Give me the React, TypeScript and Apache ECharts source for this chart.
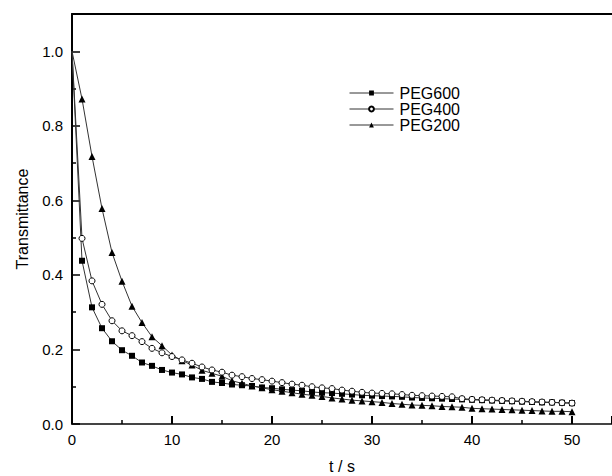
import React, { useEffect, useRef } from "react";
import * as echarts from "echarts";

const times = [
  0, 1, 2, 3, 4, 5, 6, 7, 8, 9, 10, 11, 12, 13, 14, 15, 16, 17, 18, 19, 20,
  21, 22, 23, 24, 25, 26, 27, 28, 29, 30, 31, 32, 33, 34, 35, 36, 37, 38, 39,
  40, 41, 42, 43, 44, 45, 46, 47, 48, 49, 50,
];

const peg600 = [
  1.0, 0.438, 0.313, 0.257, 0.222, 0.198, 0.183, 0.165, 0.156, 0.145, 0.138,
  0.133, 0.125, 0.121, 0.113, 0.11, 0.106, 0.104, 0.102, 0.098, 0.096,
  0.093, 0.091, 0.089, 0.086, 0.084, 0.083, 0.081, 0.079, 0.077, 0.076,
  0.075, 0.074, 0.073, 0.071, 0.07, 0.069, 0.068, 0.067, 0.066, 0.065,
  0.064, 0.063, 0.062, 0.061, 0.06, 0.059, 0.058, 0.058, 0.057, 0.056,
];

const peg400 = [
  1.0, 0.498, 0.384, 0.321, 0.277, 0.25, 0.237, 0.221, 0.203, 0.191, 0.181,
  0.172, 0.163, 0.153, 0.145, 0.139, 0.131, 0.127, 0.122, 0.119, 0.115,
  0.111, 0.107, 0.104, 0.1, 0.097, 0.095, 0.091, 0.088, 0.085, 0.083,
  0.082, 0.081, 0.079, 0.077, 0.076, 0.075, 0.074, 0.073, 0.068, 0.066,
  0.065, 0.064, 0.063, 0.062, 0.061, 0.06, 0.059, 0.058, 0.057, 0.056,
];

const peg200 = [
  1.0, 0.872, 0.718, 0.578, 0.46, 0.383, 0.316, 0.272, 0.234, 0.21, 0.185,
  0.17, 0.158, 0.144, 0.136, 0.128, 0.116, 0.109, 0.102, 0.097, 0.092,
  0.088, 0.084, 0.08, 0.077, 0.074, 0.07, 0.067, 0.064, 0.062, 0.06,
  0.058, 0.055, 0.053, 0.051, 0.05, 0.049, 0.047, 0.046, 0.045, 0.042,
  0.041, 0.04, 0.039, 0.038, 0.037, 0.036, 0.035, 0.034, 0.034, 0.033,
];

const xTicks = [0, 10, 20, 30, 40, 50];
const yTickLabels = ["0.0", "0.2", "0.4", "0.6", "0.8", "1.0"];

const FONT = "'Liberation Sans', Arial, sans-serif";

const pair = (vals: number[]) =>
  vals.map((v, i) =>
    i === 0 ? { value: [times[i], v], symbol: "none" } : { value: [times[i], v] }
  );

export default function App() {
  const ref = useRef<HTMLDivElement>(null);
  useEffect(() => {
    if (!ref.current) return;
    const chart = echarts.init(ref.current, null, { renderer: "svg" });
    const lineStyle = { color: "#333", width: 1 };
    chart.setOption({
      animation: false,
      backgroundColor: "#fff",
      grid: {
        left: 72,
        top: 14,
        right: 0,
        bottom: 52,
        containLabel: false,
        outerBoundsMode: "none",
      },
      legend: {
        orient: "vertical",
        left: 349,
        top: 85,
        padding: 0,
        itemWidth: 44,
        itemHeight: 6,
        itemGap: 0,
        data: ["PEG600", "PEG400", "PEG200"],
        lineStyle: { width: 1, color: "#333" },
        textStyle: { fontFamily: FONT, fontSize: 16, lineHeight: 16, color: "#000", padding: [0, 0, 0, 1] },
      },
      xAxis: [
        {
          type: "value",
          min: 0,
          max: 54,
          interval: 10,
          name: "t / s",
          nameLocation: "middle",
          nameGap: 34,
          nameTextStyle: { fontFamily: FONT, fontSize: 16, color: "#000" },
          axisLine: { onZero: false, lineStyle: { color: "#444", width: 2 } },
          axisTick: { inside: true, length: 8, lineStyle: { color: "#000", width: 2 } },
          minorTick: { show: true, splitNumber: 2, length: 4, lineStyle: { color: "#000", width: 1.5 } },
          axisLabel: {
            margin: 8,
            fontFamily: FONT,
            fontSize: 15,
            color: "#000",
            showMaxLabel: false,
            formatter: (v: number) => (xTicks.includes(v) ? String(v) : ""),
          },
          splitLine: { show: false },
        },
        {
          type: "value",
          position: "top",
          min: 0,
          max: 54,
          axisLine: { show: true, onZero: false, lineStyle: { color: "#000", width: 2 } },
          axisTick: { show: false },
          axisLabel: { show: false },
          splitLine: { show: false },
        },
      ],
      yAxis: {
        type: "value",
        min: 0,
        max: 1.1,
        interval: 0.2,
        name: "Transmittance",
        nameLocation: "middle",
        nameGap: 42,
        nameTextStyle: { fontFamily: FONT, fontSize: 16, color: "#000" },
        axisLine: { show: true, onZero: false, lineStyle: { color: "#000", width: 2 } },
        axisTick: { inside: true, length: 8, lineStyle: { color: "#000", width: 1.5 } },
        minorTick: { show: true, splitNumber: 2, length: 4, lineStyle: { color: "#000", width: 1.5 } },
        axisLabel: {
          margin: 9,
          fontFamily: FONT,
          fontSize: 15,
          color: "#000",
          showMaxLabel: false,
          formatter: (v: number) => {
            const s = v.toFixed(1);
            return yTickLabels.includes(s) && Math.abs(v * 10 - Math.round(v * 10)) < 1e-6 && Math.round(v * 10) % 2 === 0 ? s : "";
          },
        },
        splitLine: { show: false },
      },
      series: [
        {
          name: "PEG600",
          type: "line",
          data: pair(peg600),
          symbol: "rect",
          symbolSize: 6,
          lineStyle,
          itemStyle: { color: "#000" },
          z: 2,
        },
        {
          name: "PEG200",
          type: "line",
          data: pair(peg200),
          symbol: "triangle",
          symbolSize: 7,
          lineStyle,
          itemStyle: { color: "#000" },
          z: 3,
        },
        {
          name: "PEG400",
          type: "line",
          data: pair(peg400),
          symbol: "circle",
          symbolSize: 6,
          lineStyle,
          itemStyle: { color: "#fff", borderColor: "#000", borderWidth: 1 },
          z: 4,
        },
      ],
    });
    return () => chart.dispose();
  }, []);
  return (
    <div
      ref={ref}
      style={{ position: "fixed", left: 0, top: 0, width: 612, height: 476 }}
    />
  );
}
